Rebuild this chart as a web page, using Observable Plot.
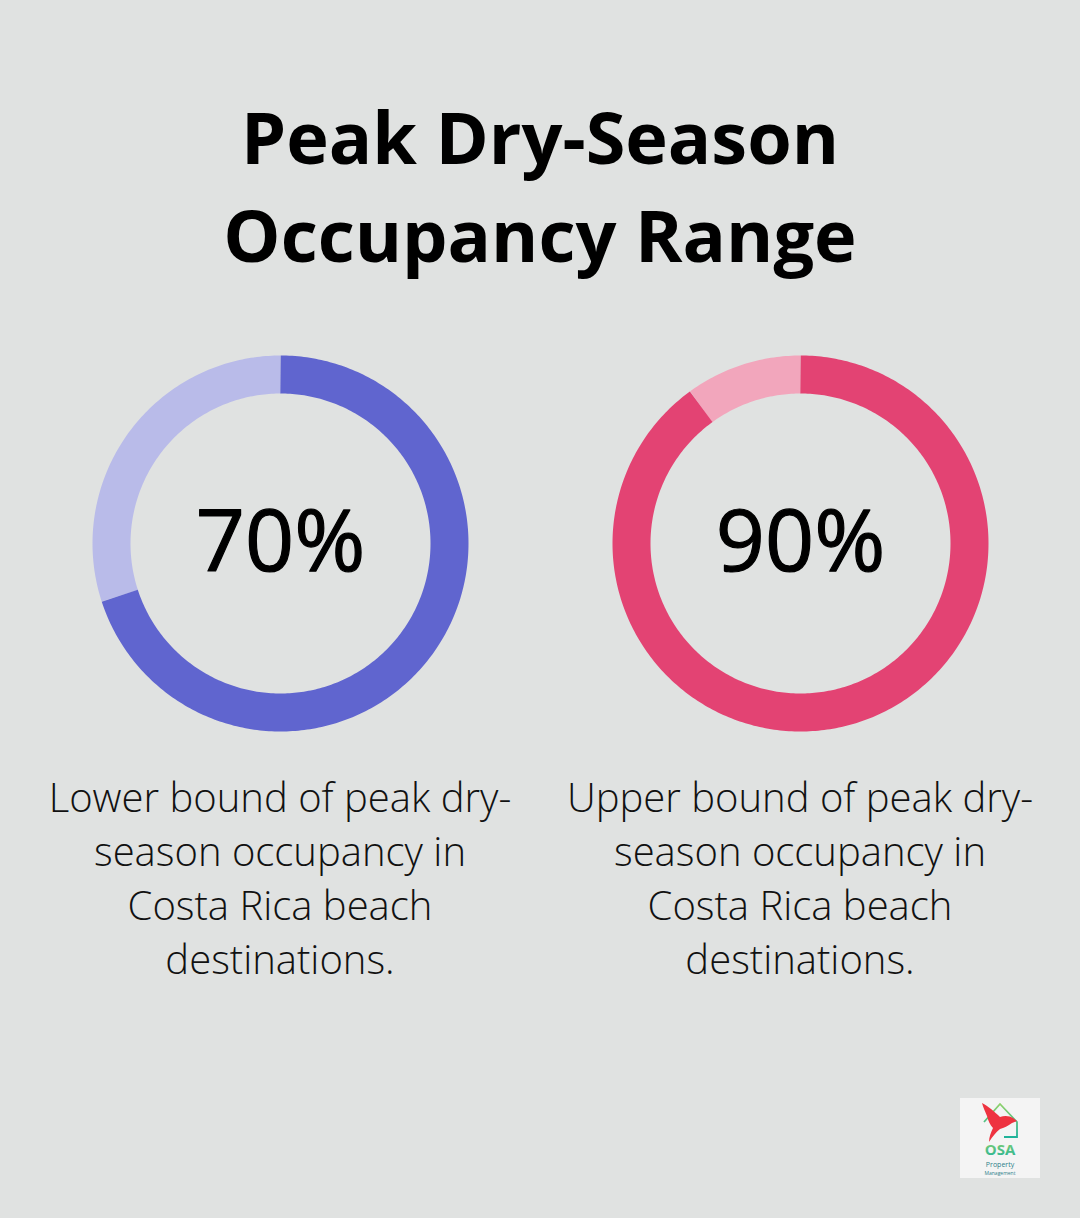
<!DOCTYPE html>
<html>
<head>
<meta charset="utf-8">
<script src="https://cdn.jsdelivr.net/npm/d3@7"></script>
<script src="https://cdn.jsdelivr.net/npm/@observablehq/plot@0.6"></script>
<style>
  html, body { margin: 0; padding: 0; }
  body { width: 1080px; height: 1218px; background: #e0e2e1; position: relative; overflow: hidden; font-family: "Open Sans", sans-serif; }
  #title { position: absolute; top: 87px; left: 0; width: 1080px; text-align: center; font-weight: 700; font-size: 72px; line-height: 98px; color: #000; margin: 0; }
  .col { position: absolute; top: 343px; width: 520px; }
  .cap { position: absolute; top: 770px; width: 520px; text-align: center; font-weight: 300; font-size: 40px; line-height: 54px; color: #111; }
  #logo { position: absolute; left: 960px; top: 1098px; width: 80px; height: 80px; background: #f4f4f4; }
</style>
</head>
<body>
<div id="title">Peak Dry-Season<br>Occupancy Range</div>
<div id="charts"></div>
<div id="logo">
  <svg width="80" height="80" viewBox="0 0 80 80">
    <defs>
      <linearGradient id="g" x1="0" y1="0" x2="0" y2="1">
        <stop offset="0" stop-color="#8fd16a"/><stop offset="1" stop-color="#1fb39a"/>
      </linearGradient>
    </defs>
    <path d="M24 24 L40 6 L57 24 L57 39 L44 39" fill="none" stroke="url(#g)" stroke-width="1.8"/>
    <path d="M24 39 L24 30" fill="none" stroke="url(#g)" stroke-width="1.8"/>
    <path d="M22 5 C28 8 35 14 40 19 C45 17 50 18 53 20 L57 23 L52 25 C48 28 44 30 40 31 C36 34 33 38 29 44 C29 39 31 34 33 30 C30 27 28 22 27 18 C25 13 23 9 22 5 Z" fill="#ee3340"/>
    <text x="40" y="57" text-anchor="middle" font-family="Open Sans" font-weight="700" font-size="15" fill="url(#g)">OSA</text>
    <text x="40" y="69" text-anchor="middle" font-family="Open Sans" font-size="7" fill="#2e7f8a">Property</text>
    <text x="40" y="76.6" text-anchor="middle" font-family="Open Sans" font-size="5" fill="#2e7f8a">Management</text>
  </svg>
</div>
<script>
// ---- data ----
const labels = ["70%", "90%"];
const values = [70, 90];
const captions = [
  "Lower bound of peak dry-<br>season occupancy in<br>Costa Rica beach<br>destinations.",
  "Upper bound of peak dry-<br>season occupancy in<br>Costa Rica beach<br>destinations."
];
const mainColors = ["#6065cf", "#e34373"];
const restColors = ["#b9bbe9", "#f2a6bc"];

const midRadius = 169;
const ringWidth = 38;
const lefts = [20, 540];

function arcPoints(start, end, r, seg) {
  const pts = [];
  const n = Math.max(2, Math.ceil((end - start) * 4));
  for (let i = 0; i <= n; i++) {
    const p = start + (end - start) * i / n;
    const a = p / 100 * 2 * Math.PI;
    pts.push({x: r * Math.sin(a), y: r * Math.cos(a), seg});
  }
  return pts;
}

const charts = document.getElementById("charts");
values.forEach((v, i) => {
  const data = [
    ...arcPoints(v, 100, midRadius, "rest"),
    ...arcPoints(0, v, midRadius, "value")
  ];
  const plot = Plot.plot({
    width: 520,
    height: 400,
    margin: 0,
    x: {domain: [-260, 260], axis: null},
    y: {domain: [-200, 200], axis: null},
    color: {domain: ["value", "rest"], range: [mainColors[i], restColors[i]]},
    style: {background: "transparent", overflow: "visible"},
    marks: [
      Plot.line(data, {x: "x", y: "y", z: "seg", stroke: "seg", strokeWidth: ringWidth, strokeLinecap: "butt", strokeLinejoin: "round", curve: "linear"}),
      Plot.text([labels[i]], {x: () => 0, y: () => 0, text: d => d, fontSize: 86, fontFamily: "Open Sans", fontWeight: 500, fill: "#000", stroke: "#000", strokeWidth: 1.2, textAnchor: "middle", lineAnchor: "middle"})
    ]
  });
  const col = document.createElement("div");
  col.className = "col";
  col.style.left = lefts[i] + "px";
  col.appendChild(plot);
  charts.appendChild(col);
  const cap = document.createElement("div");
  cap.className = "cap";
  cap.style.left = lefts[i] + "px";
  cap.innerHTML = captions[i];
  charts.appendChild(cap);
});
</script>
</body>
</html>
